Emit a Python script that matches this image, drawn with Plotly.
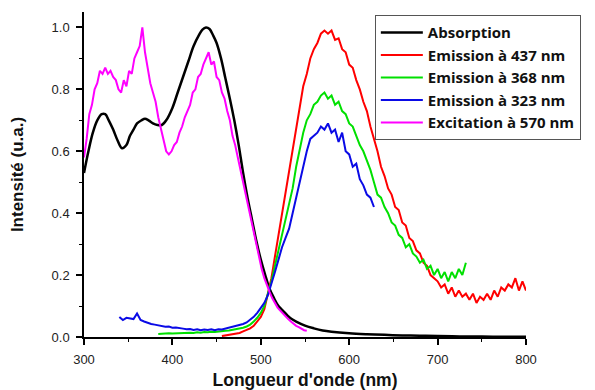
import plotly.graph_objects as go

# ---------------- data ----------------
abs_x = [300, 305, 310, 315, 320, 324, 328, 333, 338, 343, 348, 352, 356, 360, 365, 369, 373, 378, 383, 388,
         393, 400, 406, 412, 418, 424, 430, 434, 438, 442, 446, 450, 455, 460, 465, 470, 475, 480, 485, 490,
         495, 500, 505, 510, 515, 520, 525, 530, 535, 540, 550, 560, 570, 580, 600, 620, 640, 660, 680, 700,
         725, 750, 775, 800]
abs_y = [0.53, 0.60, 0.66, 0.70, 0.72, 0.72, 0.70, 0.67, 0.635, 0.61, 0.62, 0.65, 0.67, 0.69, 0.70, 0.705, 0.70, 0.69, 0.685, 0.685,
         0.70, 0.74, 0.79, 0.84, 0.89, 0.94, 0.975, 0.993, 1.0, 0.995, 0.975, 0.95, 0.90, 0.835, 0.77, 0.70, 0.62, 0.53, 0.45, 0.38,
         0.31, 0.25, 0.20, 0.155, 0.125, 0.10, 0.085, 0.07, 0.058, 0.05, 0.037, 0.028, 0.021, 0.017, 0.012, 0.009, 0.007, 0.005, 0.004, 0.003,
         0.002, 0.0015, 0.001, 0.001]

em437_x = list(range(456, 801, 4))
em437_y = [0.003, 0.005, 0.007, 0.009, 0.011, 0.013, 0.018, 0.022, 0.028, 0.036,
           0.05, 0.065, 0.09, 0.135, 0.19, 0.26, 0.33, 0.40, 0.47, 0.54,
           0.61, 0.68, 0.75, 0.81, 0.85, 0.90, 0.93, 0.95, 0.98, 0.99,
           0.98, 0.99, 0.96, 0.965, 0.93, 0.92, 0.88, 0.87, 0.83, 0.80,
           0.76, 0.73, 0.68, 0.64, 0.60, 0.55, 0.52, 0.48, 0.46, 0.42,
           0.41, 0.37, 0.36, 0.32, 0.31, 0.28, 0.27, 0.24, 0.23, 0.20,
           0.19, 0.18, 0.16, 0.17, 0.14, 0.16, 0.13, 0.15, 0.13, 0.14,
           0.12, 0.14, 0.11, 0.13, 0.12, 0.14, 0.12, 0.15, 0.13, 0.16,
           0.15, 0.17, 0.16, 0.19, 0.15, 0.18, 0.15]

em368_x = list(range(384, 733, 4))
em368_y = [0.010, 0.011, 0.010, 0.012, 0.011, 0.012, 0.013, 0.012, 0.013, 0.014,
           0.013, 0.015, 0.014, 0.016, 0.015, 0.017, 0.016, 0.018, 0.018, 0.020,
           0.021, 0.023, 0.025, 0.027, 0.030, 0.034, 0.040, 0.050, 0.062, 0.078,
           0.10, 0.14, 0.18, 0.23, 0.28, 0.32, 0.37, 0.42, 0.48, 0.55,
           0.61, 0.66, 0.70, 0.72, 0.75, 0.76, 0.78, 0.79, 0.77, 0.78,
           0.75, 0.76, 0.73, 0.72, 0.69, 0.68, 0.65, 0.62, 0.60, 0.57,
           0.54, 0.50, 0.46, 0.45, 0.42, 0.40, 0.37, 0.36, 0.33, 0.32,
           0.29, 0.30, 0.27, 0.26, 0.24, 0.25, 0.22, 0.23, 0.20, 0.22,
           0.19, 0.21, 0.18, 0.21, 0.19, 0.22, 0.20, 0.24]

em323_x = list(range(340, 629, 4))
em323_y = [0.065, 0.055, 0.062, 0.060, 0.058, 0.076, 0.055, 0.050, 0.045, 0.042,
           0.040, 0.037, 0.036, 0.033, 0.034, 0.030, 0.031, 0.028, 0.027, 0.025,
           0.026, 0.023, 0.025, 0.022, 0.024, 0.023, 0.025, 0.022, 0.025, 0.024,
           0.027, 0.029, 0.032, 0.034, 0.038, 0.042, 0.047, 0.055, 0.065, 0.078,
           0.095, 0.11, 0.135, 0.17, 0.21, 0.25, 0.29, 0.32, 0.35, 0.40,
           0.45, 0.50, 0.56, 0.60, 0.64, 0.65, 0.66, 0.68, 0.67, 0.69,
           0.66, 0.67, 0.63, 0.66, 0.60, 0.59, 0.55, 0.56, 0.51, 0.49,
           0.46, 0.45, 0.42]

exc_x = list(range(300, 553, 3))
exc_y = [0.58, 0.64, 0.72, 0.75, 0.80, 0.82, 0.86, 0.85, 0.87, 0.85,
         0.86, 0.84, 0.83, 0.80, 0.79, 0.83, 0.81, 0.86, 0.85, 0.90,
         0.92, 0.94, 1.00, 0.92, 0.87, 0.82, 0.79, 0.76, 0.71, 0.67,
         0.63, 0.60, 0.59, 0.60, 0.62, 0.63, 0.66, 0.68, 0.71, 0.73,
         0.75, 0.79, 0.80, 0.84, 0.85, 0.88, 0.90, 0.92, 0.88, 0.89,
         0.84, 0.83, 0.79, 0.77, 0.73, 0.70, 0.65, 0.62, 0.58, 0.54,
         0.50, 0.46, 0.41, 0.37, 0.33, 0.29, 0.25, 0.22, 0.19, 0.165,
         0.145, 0.125, 0.11, 0.095, 0.085, 0.075, 0.065, 0.058, 0.05, 0.042,
         0.036, 0.032, 0.027, 0.022, 0.02]

series = [
    ("Absorption", abs_x, abs_y, "#000000", 2.5),
    ("Emission à 437 nm", em437_x, em437_y, "#ff0000", 2),
    ("Emission à 368 nm", em368_x, em368_y, "#00e000", 2),
    ("Emission à 323 nm", em323_x, em323_y, "#0a0ae6", 2),
    ("Excitation à 570 nm", exc_x, exc_y, "#ff00ff", 2),
]

x_ticks = [300, 400, 500, 600, 700, 800]
y_ticks = [0.0, 0.2, 0.4, 0.6, 0.8, 1.0]

fig = go.Figure()
for name, xs, ys, col, w in series:
    fig.add_trace(go.Scatter(x=xs, y=ys, mode="lines", name=name,
                             line=dict(color=col, width=w,
                                       shape="spline" if name == "Absorption" else "linear")))

FONT = "Liberation Sans, Arial, sans-serif"
# the page body has an 8px margin, so the figure is sized to fit the 595x390 window
fig.update_layout(
    width=587, height=382,
    margin=dict(l=76, r=69, t=4, b=53),
    paper_bgcolor="white", plot_bgcolor="white",
    font=dict(family=FONT, size=13, color="#222222"),
    showlegend=True,
    legend=dict(x=0.658, y=0.99, xanchor="left", yanchor="top",
                bgcolor="white", bordercolor="#555555", borderwidth=1,
                font=dict(family="Open Sans, Liberation Sans, Arial", size=15, color="#111111", weight="bold"),
                itemwidth=42, tracegroupgap=0),
)
fig.update_xaxes(
    range=[300, 800], tickvals=x_ticks, ticktext=[str(v) for v in x_ticks],
    automargin=False,
    showline=True, linecolor="black", linewidth=1.5, mirror=False,
    ticks="outside", ticklen=6, tickwidth=1.5, tickcolor="black",
    minor=dict(ticks="outside", ticklen=3, tickwidth=1.2, tickcolor="black", dtick=50, showgrid=False),
    showgrid=False, zeroline=False, ticklabelstandoff=4,
    title=dict(text="<b>Longueur d'onde (nm)</b>", font=dict(family=FONT, size=17.5, color="#111111"), standoff=9),
)
fig.update_yaxes(
    range=[0, 1.05], tickvals=y_ticks, ticktext=["%.1f" % v for v in y_ticks],
    automargin=False,
    showline=True, linecolor="black", linewidth=1.5, mirror=False,
    ticks="outside", ticklen=6, tickwidth=1.5, tickcolor="black",
    minor=dict(ticks="outside", ticklen=3, tickwidth=1.2, tickcolor="black", dtick=0.1, showgrid=False),
    showgrid=False, zeroline=False, ticklabelstandoff=4,
    title=dict(text="<b>Intensité (u.a.)</b>", font=dict(family=FONT, size=17, color="#111111"), standoff=24),
)

fig.write_html("out.html")
